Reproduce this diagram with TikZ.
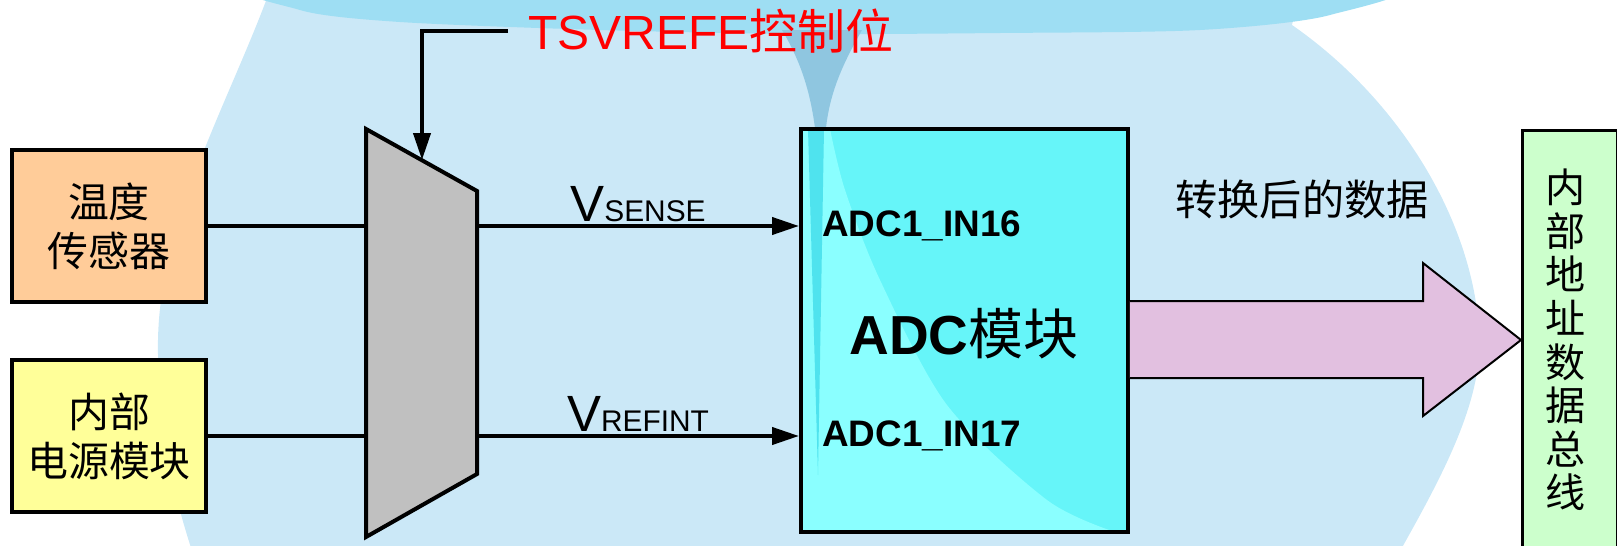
\documentclass[tikz,border=0pt]{standalone}
\usepackage{fontspec}
\setmainfont{Liberation Sans}
\newfontfamily\cjk{Noto Sans CJK SC}
\usepackage{tikz}
\usetikzlibrary{arrows.meta}
\definecolor{bgblue}{RGB}{203,232,247}
\definecolor{topblue}{RGB}{158,222,243}
\definecolor{spikeblue}{RGB}{143,198,224}
\definecolor{sensorfill}{RGB}{255,204,153}
\definecolor{powerfill}{RGB}{255,255,153}
\definecolor{muxfill}{RGB}{192,192,192}
\definecolor{adcfill}{RGB}{102,245,249}
\definecolor{adclight}{RGB}{138,255,255}
\definecolor{adcdark}{RGB}{79,227,238}
\definecolor{arrowfill}{RGB}{226,192,224}
\definecolor{busfill}{RGB}{204,255,204}
\newcommand{\fs}[2]{\fontsize{#1}{#2}\selectfont}

\begin{document}
\begin{tikzpicture}[x=0.02cm,y=-0.02cm]
\tikzstyle{box}=[draw,line width=0.08cm,minimum width=3.88cm,minimum height=3.04cm,align=center,inner sep=0pt,font=\cjk\fs{23.3}{27.9}]
\tikzstyle{wire}=[line width=0.08cm]
\tikzstyle{sig}=[wire,-{Triangle[length=0.54cm,width=0.34cm]}]
\tikzstyle{pin}=[anchor=west,inner sep=0pt,font=\bfseries\fs{21}{25}]
\tikzstyle{volt}=[above,inner sep=1.5pt,font=\fs{29}{32}]

\clip (0,0) rectangle (1617,545);
\fill[bgblue] (270,-10) .. controls (230,100) and (160,220) .. (158,340)
  .. controls (157,430) and (175,500) .. (195,560) -- (1395,560)
  .. controls (1440,480) and (1485,400) .. (1479,330)
  .. controls (1472,220) and (1400,100) .. (1292,25) -- (1300,-10) -- cycle;
\fill[topblue] plot[smooth cycle] coordinates {(264,-20) (300,10) (400,22) (600,30) (800,34) (1000,33) (1200,30) (1330,15) (1380,-20) (800,-40)};
\fill[spikeblue] (782,30) .. controls (800,60) and (810,90) .. (815,128) -- (826,128) .. controls (830,90) and (845,60) .. (862,30) -- cycle;

\node[box,fill=sensorfill] (sensor) at (109,226) {温度\\传感器};
\node[box,fill=powerfill] (power) at (109,436) {内部\\电源模块};

\draw[wire,fill=muxfill] (366,129) coordinate (m1) -- (477,191) coordinate (m2)
  -- (477,474) coordinate (m3) -- (366,537) coordinate (m4) -- cycle;
\coordinate (sel) at (422,160);

\fill[adcfill] (801,129) rectangle (1128,532);
\fill[adclight] (801,129) -- plot[smooth] coordinates {(830,129) (845,190) (880,280) (947,405) (1047,500) (1115,532)} -- (801,532) -- cycle;
\fill[adcdark] (808,129) -- (824,129) -- (818,475) -- cycle;
\node[draw,line width=0.08cm,minimum width=6.54cm,minimum height=8.06cm] (adc) at (964.5,330.5) {};
\node[draw,line width=0.05cm,fill=busfill,minimum width=1.9cm,minimum height=9cm,anchor=north west] (bus) at (1521,129) {};

\node[anchor=west,text=red,inner sep=0pt,inner xsep=0.4cm,font=\fs{27.3}{32}] (ctrl) at (508,31) {TSVREFE{\cjk 控制位}};
\node[pin] (in16) at (822,226) {ADC1\_IN16};
\node[pin] (in17) at (822,436) {ADC1\_IN17};
\node[font=\bfseries\fs{31.3}{36}] (adcname) at (964,334) {ADC{\cjk\mdseries 模块}};
\node[font=\cjk\fs{24}{28}] (data) at (1302,199) {转换后的数据};
\node[font=\cjk\fs{22.8}{24.8},align=center,inner sep=0pt] (busname) at (1566,340) {内\\部\\地\\址\\数\\据\\总\\线};

\draw[wire] (sensor.east) -- (sensor.east -| m1);
\draw[wire] (power.east) -- (power.east -| m1);
\draw[sig] (sensor.east -| m2) -- node[volt] {V{\fs{17}{20}SENSE}} (sensor.east -| adc.west);
\draw[sig] (power.east -| m2) -- node[volt] {V{\fs{17}{20}REFINT}} (power.east -| adc.west);
\draw[sig] (ctrl.west) -| (sel);
\draw[line width=0.04cm,fill=arrowfill] (adc.east |- 0,301) -- (1423,301) -- (1423,263)
  -- (bus.west |- 0,340) -- (1423,416) -- (1423,378) -- (adc.east |- 0,378);
\end{tikzpicture}
\end{document}
